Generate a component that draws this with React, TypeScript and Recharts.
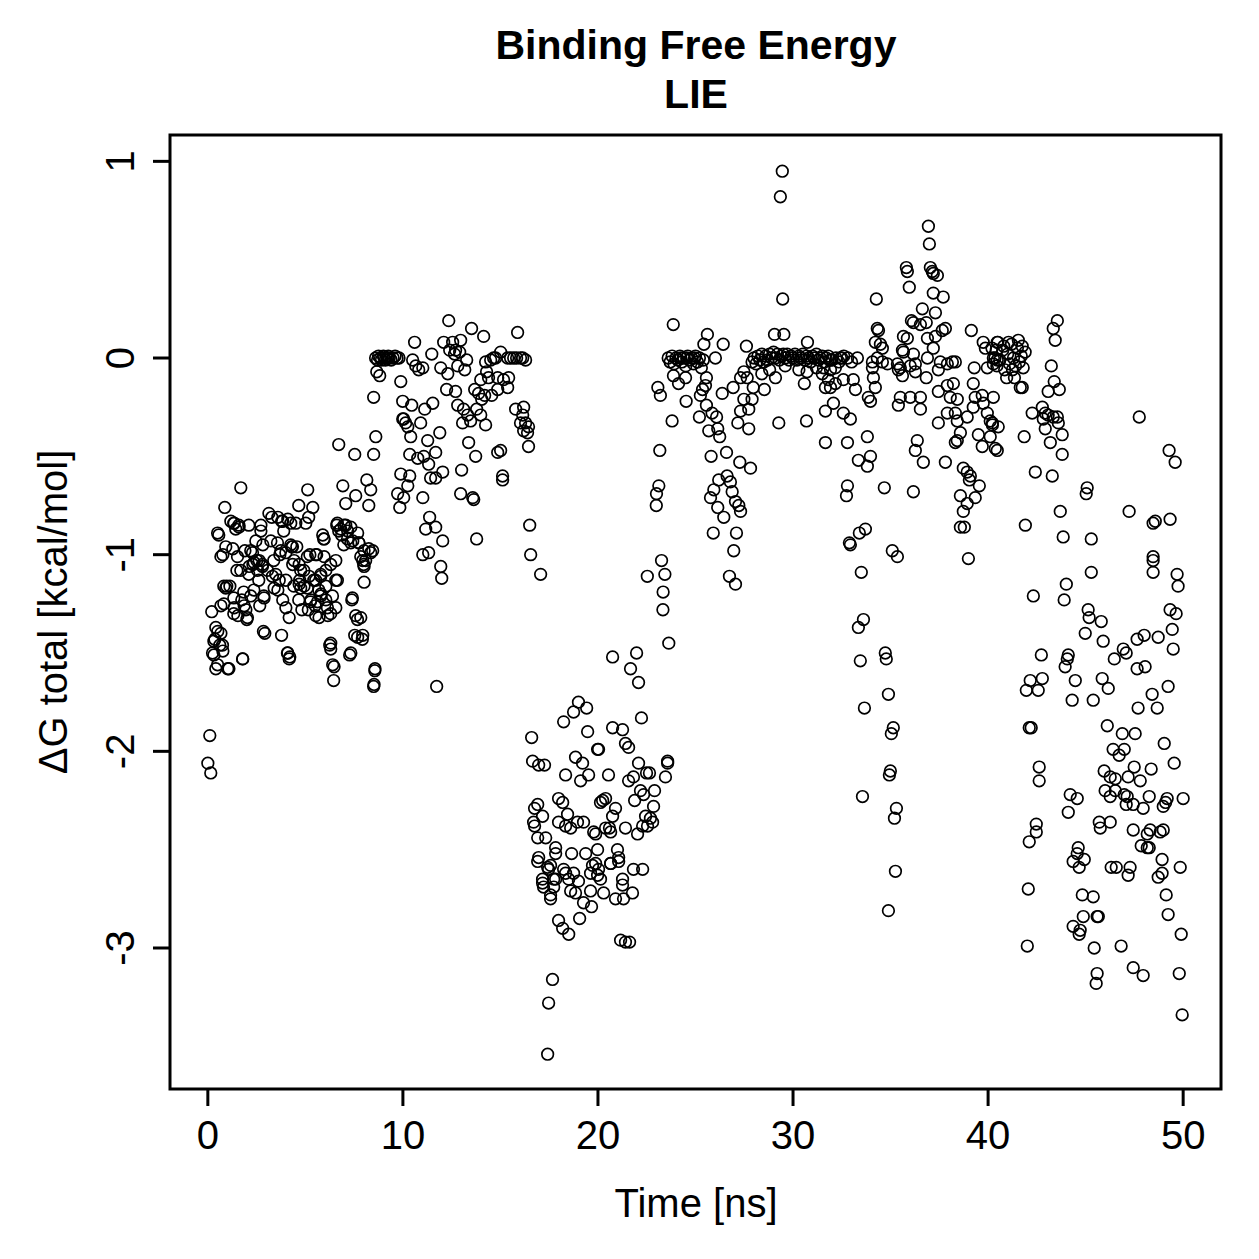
import React from 'react';
import { ScatterChart, Scatter, XAxis, YAxis, ReferenceArea } from 'recharts';

// Axis ticks and ranges (ns, kcal/mol)
const X_TICKS = [0, 10, 20, 30, 40, 50];
const Y_TICKS = [-3, -2, -1, 0, 1];
const X_DOMAIN: [number, number] = [-1.94, 51.94];
const Y_DOMAIN: [number, number] = [-3.717, 1.134];

const TITLE = 'Binding Free Energy';
const SUBTITLE = 'LIE';
const X_LABEL = 'Time [ns]';
const Y_LABEL = 'ΔG total [kcal/mol]';

// [time (ns), ΔG total (kcal/mol)] per simulation stretch
const stretch0to8: [number, number][] = [
  [0.0, -2.06], [0.15, -2.11], [0.1, -1.92], [0.2, -1.29], [0.36, -1.43], [0.31, -1.51], [0.41, -1.58],
  [0.51, -1.39], [0.61, -1.46], [0.77, -1.49], [0.56, -0.9], [0.67, -1.01], [0.82, -1.25], [0.87, -0.76],
  [0.92, -0.96], [0.97, -1.16], [1.02, -1.58], [0.77, -1.0], [0.5, -0.89], [0.82, -1.16], [0.92, -1.17],
  [0.67, -1.26], [1.33, -1.3], [2.03, -1.32], [0.41, -1.37], [0.67, -1.4], [0.31, -1.44], [0.75, -1.46],
  [0.24, -1.5], [0.5, -1.56], [1.08, -1.58], [1.78, -1.53],
  [1.13, -1.16], [1.18, -0.83], [1.28, -0.97], [1.33, -0.84], [1.33, -1.22], [1.43, -0.87], [1.49, -1.08],
  [1.54, -1.31], [1.59, -0.85], [1.69, -0.66], [1.69, -1.08], [1.74, -1.23], [1.79, -1.53], [1.84, -1.19],
  [1.9, -0.98], [1.95, -1.28], [2.0, -1.33], [1.35, -0.84], [1.6, -0.86], [1.52, -1.01], [1.86, -1.26], [1.35, -1.27],
  [2.1, -0.85], [2.1, -1.1], [2.2, -0.98], [2.31, -1.05], [2.36, -1.18], [2.46, -0.93], [2.51, -1.03],
  [2.61, -1.13], [2.66, -1.26], [2.72, -0.85], [2.72, -0.88], [2.82, -0.95], [2.87, -1.21], [2.92, -1.4],
  [2.85, -1.39], [2.88, -1.22], [2.2, -1.21], [2.8, -1.06], [3.06, -1.08], [2.55, -1.08], [2.12, -1.06],
  [2.37, -1.04], [2.29, -0.99], [2.63, -1.03], [2.8, -1.05],
  [3.13, -0.79], [3.23, -0.93], [3.28, -0.81], [3.38, -1.03], [3.48, -1.1], [3.59, -0.81], [3.59, -1.18],
  [3.69, -1.0], [3.79, -0.83], [3.84, -1.23], [3.89, -0.88], [4.0, -1.13], [3.57, -0.94], [3.83, -0.83],
  [3.78, -1.41], [3.4, -1.17], [3.66, -1.13], [3.31, -1.11], [3.74, -0.98], [4.0, -0.99], [4.0, -1.27],
  [4.1, -0.82], [4.1, -1.5], [4.2, -1.52], [4.25, -0.84], [4.3, -0.96], [4.35, -1.05], [4.41, -1.16],
  [4.51, -0.84], [4.56, -0.96], [4.66, -0.75], [4.66, -1.23], [4.71, -1.13], [4.82, -1.28], [4.92, -1.08],
  [4.34, -0.96], [4.08, -1.5], [4.17, -1.53], [4.17, -1.32], [4.25, -0.95], [4.42, -1.03], [4.68, -1.05],
  [4.76, -1.08], [4.68, -1.15], [4.93, -1.16], [4.76, -1.17],
  [5.02, -0.84], [5.12, -0.67], [5.17, -0.81], [5.23, -1.0], [5.28, -1.23], [5.38, -0.76], [5.43, -1.13],
  [5.53, -1.31], [5.58, -1.0], [5.69, -1.18], [5.79, -1.1], [5.89, -0.9], [5.94, -0.92], [5.96, -0.92],
  [5.1, -1.01], [5.53, -1.0], [5.96, -1.01], [5.79, -1.11], [5.53, -1.13], [5.19, -1.11], [5.1, -1.17],
  [5.26, -1.24], [5.5, -1.26], [5.15, -1.28], [5.8, -1.2], [5.62, -1.24], [5.7, -1.32], [5.79, -1.21],
  [6.05, -1.23], [6.15, -1.31], [6.25, -1.46], [6.3, -1.48], [6.4, -1.56], [6.45, -1.64], [6.56, -1.03],
  [6.61, -0.85], [6.71, -0.44], [6.71, -0.88], [6.81, -0.87], [6.86, -0.9], [6.92, -0.65], [6.97, -0.95],
  [6.64, -0.84], [6.98, -0.85], [6.3, -1.45], [6.47, -1.57], [6.39, -1.21], [6.56, -1.13], [6.05, -1.16],
  [6.13, -1.27], [6.3, -1.3], [6.3, -1.05], [6.05, -1.08], [6.64, -1.13], [6.56, -1.27],
  [7.07, -0.74], [7.07, -0.85], [7.17, -0.88], [7.27, -1.51], [7.33, -0.86], [7.38, -1.23], [7.43, -0.93],
  [7.53, -0.49], [7.58, -0.7], [7.58, -1.31], [7.68, -0.89], [7.68, -1.42], [7.74, -0.94], [7.84, -1.01],
  [7.94, -1.41], [7.94, -1.03], [7.99, -1.05], [7.16, -0.92], [7.33, -0.94], [7.75, -0.94], [7.53, -1.41],
  [7.92, -1.43], [7.41, -1.22], [7.84, -1.32], [7.67, -1.33], [7.33, -1.5],
  [8.15, -0.62], [8.25, -0.75], [8.25, -0.97], [8.35, -0.99], [8.35, -0.67], [8.45, -0.98], [8.5, -1.67],
  [8.56, -1.59], [8.01, -0.98], [8.09, -1.03], [8.01, -1.06], [8.01, -1.14], [8.57, -1.58], [8.52, -1.66],
];

const stretch8to17: [number, number][] = [
  [8.6, 0.0], [8.7, -0.01], [8.75, 0.01], [8.85, 0.0], [8.9, -0.01], [9.0, 0.01], [9.05, 0.0], [9.1, -0.01],
  [9.2, 0.0], [9.25, 0.01], [9.3, 0.0], [9.4, -0.01], [9.5, 0.0], [9.6, 0.01], [9.7, 0.0], [9.8, 0.0],
  [8.81, -0.09], [8.66, -0.07], [8.5, -0.2], [8.61, -0.4], [8.5, -0.49],
  [9.89, -0.12], [9.99, -0.22], [10.04, -0.31], [10.14, -0.33], [10.25, -0.35], [10.4, -0.4], [10.91, -0.33],
  [11.27, -0.42], [11.89, -0.38], [11.68, -0.48], [10.35, -0.49], [10.76, -0.51], [11.07, -0.5], [11.32, -0.54],
  [11.42, -0.61], [11.68, -0.61], [12.04, -0.58], [9.89, -0.59], [10.35, -0.6], [10.25, -0.65], [9.73, -0.69],
  [10.04, -0.71], [9.84, -0.76], [11.02, -0.71], [13.01, -0.57], [13.37, -0.43], [13.73, -0.5], [12.96, -0.69],
  [13.63, -0.72], [13.58, -0.71], [14.86, -0.48], [15.01, -0.47], [15.11, -0.6], [15.11, -0.62], [11.37, -0.81],
  [11.17, -0.87], [11.68, -0.86], [12.04, -0.93], [13.78, -0.92], [16.5, -0.85], [11.02, -1.0], [11.32, -0.99],
  [11.94, -1.06], [11.99, -1.12], [16.55, -1.0], [17.06, -1.1], [11.73, -1.67],
  [12.35, 0.19], [13.52, 0.15], [14.14, 0.11], [15.88, 0.13], [10.6, 0.08], [12.09, 0.08], [12.55, 0.08],
  [12.96, 0.09], [12.4, 0.04], [12.91, 0.03], [11.48, 0.02], [10.5, -0.01], [10.66, -0.04], [10.81, -0.06],
  [11.02, -0.05], [11.94, -0.05], [12.3, -0.08], [12.81, -0.04], [13.17, -0.06], [14.24, -0.02], [14.5, -0.01],
  [14.75, 0.0], [15.01, 0.03], [15.37, 0.0], [15.68, 0.0], [16.03, 0.0], [16.29, -0.01], [15.52, 0.0],
  [15.83, 0.0], [16.14, 0.0], [13.99, -0.11], [14.39, -0.1], [14.86, -0.1], [15.16, -0.11], [15.42, -0.1],
  [15.37, -0.15], [14.86, -0.16], [12.24, -0.16], [12.7, -0.17], [12.81, -0.24], [13.11, -0.26], [13.32, -0.29],
  [13.06, -0.33], [13.47, -0.32], [13.78, -0.26], [13.99, -0.29], [14.24, -0.34], [15.78, -0.26], [16.14, -0.29],
  [16.19, -0.25], [16.03, -0.33], [16.29, -0.33], [16.44, -0.35], [16.19, -0.37], [16.39, -0.38], [16.44, -0.45],
  [11.12, -0.26], [11.53, -0.23], [10.45, -0.24], [13.68, -0.16], [14.55, -0.19], [14.19, -0.19], [13.88, -0.18],
  [14.04, -0.21], [9.99, -0.31], [12.65, 0.02], [12.7, 0.04], [13.27, -0.01], [14.29, -0.07], [14.65, 0.0],
];

const stretch16to24: [number, number][] = [
  [20.75, -1.52], [21.98, -1.5], [21.67, -1.58], [22.08, -1.65], [19.0, -1.75], [18.75, -1.8], [19.42, -1.78],
  [18.24, -1.85], [22.23, -1.83], [16.6, -1.93], [19.47, -1.9], [20.75, -1.88], [21.26, -1.89], [21.41, -1.96],
  [21.57, -1.98], [20.03, -1.99], [19.98, -1.99], [16.65, -2.05], [16.96, -2.07], [17.26, -2.07], [18.85, -2.03],
  [19.21, -2.06], [23.57, -2.05], [23.57, -2.06], [18.34, -2.12], [19.11, -2.15], [19.52, -2.12], [20.54, -2.12],
  [21.57, -2.15], [21.82, -2.13], [22.08, -2.06], [22.49, -2.11], [22.64, -2.11], [23.46, -2.13], [22.18, -2.2],
  [22.34, -2.22], [22.9, -2.2], [21.88, -2.25], [20.24, -2.25], [20.39, -2.24], [20.13, -2.26], [16.91, -2.27],
  [16.75, -2.29], [17.98, -2.24], [18.19, -2.26], [20.9, -2.29], [20.75, -2.33], [17.16, -2.33], [18.44, -2.32],
  [22.85, -2.28], [22.44, -2.33], [22.69, -2.34], [22.8, -2.36], [22.54, -2.38], [22.29, -2.38], [16.7, -2.36],
  [16.75, -2.38], [17.98, -2.36], [18.34, -2.38], [18.6, -2.39], [18.95, -2.36], [19.26, -2.36], [19.78, -2.41],
  [19.88, -2.42], [20.39, -2.39], [20.59, -2.39], [20.65, -2.41], [21.41, -2.39], [22.03, -2.42], [16.91, -2.44],
  [17.32, -2.44], [17.83, -2.49], [17.83, -2.52], [18.65, -2.52], [19.37, -2.52], [19.98, -2.5], [21.0, -2.5],
  [21.06, -2.54], [16.96, -2.54], [19.88, -2.57], [20.65, -2.57], [17.47, -2.6], [21.82, -2.6], [22.29, -2.6],
  [18.34, -2.62], [18.75, -2.62], [17.16, -2.65], [17.83, -2.65], [19.62, -2.62], [19.98, -2.63], [21.26, -2.65],
  [16.91, -2.56], [17.42, -2.59], [17.57, -2.58], [18.24, -2.6], [19.72, -2.58], [20.03, -2.6], [20.65, -2.57],
  [21.06, -2.56], [17.16, -2.67], [17.21, -2.69], [17.73, -2.65], [17.73, -2.69], [18.5, -2.65], [19.0, -2.66],
  [19.62, -2.71], [18.6, -2.71], [18.85, -2.72], [20.13, -2.65], [17.57, -2.73], [17.57, -2.75], [20.29, -2.72],
  [20.9, -2.75], [21.26, -2.68], [21.31, -2.75], [21.77, -2.72], [19.26, -2.77], [19.67, -2.79], [17.98, -2.86],
  [18.19, -2.9], [18.5, -2.93], [19.06, -2.85], [21.16, -2.96], [21.41, -2.97], [21.62, -2.97], [17.67, -3.16],
  [17.47, -3.28], [17.42, -3.54],
];

const stretch23to32: [number, number][] = [
  [23.26, -1.03], [23.43, -1.1], [22.53, -1.11], [23.34, -1.19], [23.33, -1.28], [23.63, -1.45],
  [23.12, -0.65], [23.0, -0.69], [22.99, -0.75], [23.17, -0.47], [23.07, -0.15], [23.2, -0.19], [23.86, 0.17],
  [23.8, -0.32],
  [23.6, 0.0], [23.7, -0.02], [23.8, 0.01], [23.9, -0.03], [24.0, 0.0], [24.1, -0.01], [24.2, 0.01], [24.3, -0.02],
  [24.4, 0.0], [24.5, -0.04], [24.6, 0.01], [24.7, -0.01], [24.8, 0.0], [24.9, -0.03], [25.0, 0.01], [25.1, -0.02],
  [25.2, 0.0], [25.3, -0.05], [25.4, -0.01], [24.25, 0.0], [24.55, 0.0], [24.95, 0.0],
  [25.61, 0.12], [25.43, 0.07], [26.42, 0.07], [27.61, 0.06], [26.02, 0.0],
  [23.87, -0.09], [24.49, -0.1], [24.13, -0.13], [25.56, -0.1], [25.51, -0.14], [25.36, -0.16], [25.25, -0.19],
  [26.37, -0.18], [26.93, -0.15], [24.52, -0.22], [25.56, -0.24], [25.2, -0.3], [25.85, -0.28], [26.08, -0.3],
  [25.68, -0.37], [26.14, -0.36], [26.24, -0.4], [25.8, -0.5], [26.59, -0.48], [27.27, -0.53], [27.82, -0.56],
  [26.62, -0.6], [26.79, -0.63], [26.19, -0.62], [25.94, -0.67], [25.77, -0.71], [26.88, -0.68], [27.05, -0.73],
  [27.22, -0.75], [27.31, -0.78], [26.14, -0.76], [26.45, -0.81], [25.91, -0.89], [27.1, -0.89], [26.96, -0.98],
  [26.74, -1.11], [27.05, -1.15],
  [27.48, -0.07], [27.31, -0.1], [27.65, -0.1], [27.96, -0.15], [27.48, -0.21], [27.9, -0.21], [27.31, -0.27],
  [27.73, -0.26], [27.17, -0.33], [27.73, -0.36], [28.53, -0.16], [29.27, -0.33], [30.69, -0.32], [30.58, -0.13],
  [30.72, -0.07], [31.66, -0.27], [31.66, -0.43], [31.66, -0.15], [29.1, -0.1],
  [29.05, 0.12], [29.53, 0.12], [30.74, 0.08], [29.47, 0.3], [29.45, 0.95], [29.35, 0.82],
  [27.9, -0.02], [28.0, 0.0], [28.1, -0.03], [28.2, 0.01], [28.3, -0.01], [28.4, 0.02], [28.5, -0.02],
  [28.6, 0.01], [28.7, -0.01], [28.8, 0.02], [28.9, 0.0], [29.0, 0.03], [29.1, 0.0], [29.2, 0.02],
  [29.3, -0.01], [29.4, 0.01], [29.5, 0.02], [29.6, 0.0], [29.7, 0.02], [29.8, -0.01], [29.9, 0.01],
  [30.0, 0.0], [30.1, 0.02], [30.2, -0.01], [30.3, 0.01], [30.4, 0.0], [30.5, 0.02], [30.6, -0.01],
  [30.7, 0.01], [30.8, 0.0], [30.9, -0.02], [31.0, 0.01], [31.1, 0.0], [31.2, 0.02], [31.3, -0.01],
  [31.4, 0.0], [31.5, 0.01], [31.6, -0.02], [31.7, 0.0], [31.8, 0.01], [31.9, -0.01],
  [28.4, -0.08], [28.8, -0.06], [29.6, -0.04], [30.3, -0.06], [31.2, -0.05], [31.5, -0.08],
];

const stretch32to40: [number, number][] = [
  [36.94, 0.67], [36.99, 0.58], [35.81, 0.46], [35.86, 0.44], [37.04, 0.46], [37.14, 0.44], [37.19, 0.43],
  [37.4, 0.42], [35.96, 0.36], [37.19, 0.33], [37.7, 0.31], [34.27, 0.3], [36.63, 0.25], [37.3, 0.23],
  [36.07, 0.19], [36.17, 0.18], [36.53, 0.17], [36.83, 0.18], [34.32, 0.15], [34.38, 0.14], [39.14, 0.14],
  [37.65, 0.14], [37.81, 0.15], [35.66, 0.11], [35.86, 0.1], [36.89, 0.1], [37.3, 0.11], [34.22, 0.08],
  [34.48, 0.07], [34.58, 0.05], [37.19, 0.05], [39.75, 0.08], [39.86, 0.05], [35.61, 0.04], [35.66, 0.03],
  [36.17, 0.02], [36.89, 0.0], [33.3, 0.0], [32.43, 0.0], [32.0, -0.01], [32.2, 0.0], [32.35, -0.02],
  [32.5, 0.0], [32.6, 0.01], [32.8, 0.0], [33.0, -0.02],
  [34.07, -0.02], [34.32, 0.0], [34.58, -0.02], [34.84, -0.03], [35.35, -0.03], [35.5, -0.05], [36.01, -0.04],
  [36.27, -0.03], [37.55, -0.02], [37.91, -0.03], [38.17, -0.02], [38.32, -0.02], [37.45, -0.06], [39.29, -0.05],
  [39.96, -0.05], [31.56, -0.05], [31.92, -0.06], [32.17, -0.05], [31.81, -0.11], [31.92, -0.15], [32.17, -0.13],
  [32.58, -0.11], [33.09, -0.11], [33.2, -0.16], [34.07, -0.05], [34.12, -0.1], [34.22, -0.15], [33.86, -0.2],
  [33.97, -0.22], [35.4, -0.06], [35.61, -0.09], [36.27, -0.07], [36.83, -0.1], [35.5, -0.2], [35.4, -0.24],
  [36.01, -0.2], [36.53, -0.2], [36.53, -0.26], [37.45, -0.17], [37.91, -0.14], [38.22, -0.13], [38.06, -0.2],
  [38.42, -0.21], [37.91, -0.28], [37.45, -0.33], [38.32, -0.28], [38.42, -0.32], [38.93, -0.3], [39.24, -0.13],
  [39.34, -0.2], [39.7, -0.19], [39.75, -0.23], [39.24, -0.25], [39.96, -0.28], [39.5, -0.39], [38.58, -0.38],
  [38.42, -0.42], [38.32, -0.43], [39.7, -0.45], [36.37, -0.42], [36.27, -0.47], [36.68, -0.53], [37.81, -0.53],
  [38.73, -0.56], [38.93, -0.58], [39.09, -0.6], [32.07, -0.23], [32.58, -0.28], [32.94, -0.31], [32.79, -0.43],
  [33.81, -0.4], [33.35, -0.52], [33.97, -0.5], [33.81, -0.55],
  [39.04, -0.62], [39.55, -0.65], [39.34, -0.71], [38.93, -0.74], [38.73, -0.78], [38.58, -0.7], [38.58, -0.86],
  [38.78, -0.86], [38.99, -1.02], [32.79, -0.65], [32.74, -0.7], [34.68, -0.66], [36.17, -0.68], [33.71, -0.87],
  [33.4, -0.89], [32.89, -0.94], [32.94, -0.95], [35.09, -0.98], [35.35, -1.01], [33.5, -1.09], [33.61, -1.33],
  [33.35, -1.37], [34.73, -1.5], [34.78, -1.53], [33.45, -1.54], [34.89, -1.71], [33.66, -1.78], [35.14, -1.88],
  [35.04, -1.91], [34.99, -2.1], [34.94, -2.12], [33.56, -2.23], [35.3, -2.29], [35.2, -2.34], [35.25, -2.61],
  [34.89, -2.81],
];

const stretch40to50: [number, number][] = [
  [40.27, 0.0], [40.47, 0.08], [40.42, 0.04], [40.27, -0.03], [40.47, -0.01], [40.27, -0.2], [40.11, -0.32],
  [40.22, -0.33], [40.11, -0.4], [40.37, -0.46],
  [40.2, 0.05], [40.35, 0.0], [40.5, 0.08], [40.6, -0.01], [40.75, 0.04], [40.85, -0.06], [41.0, 0.02],
  [41.1, -0.03], [41.2, 0.07], [41.3, 0.0], [41.4, -0.04], [41.5, 0.05], [41.6, -0.02], [41.7, 0.01],
  [41.8, -0.05], [41.9, 0.03], [40.95, -0.1], [41.35, -0.1], [40.45, -0.04], [41.55, 0.09], [40.8, 0.06],
  [41.05, 0.08], [41.25, -0.06], [41.75, 0.06],
  [43.55, 0.19], [43.34, 0.15], [43.44, 0.09], [43.24, -0.04], [43.39, -0.12], [43.08, -0.17], [43.65, -0.16],
  [41.75, -0.15], [41.65, -0.15], [42.26, -0.28], [42.78, -0.25], [42.93, -0.28], [43.08, -0.29], [42.83, -0.31],
  [43.34, -0.3], [43.6, -0.33], [43.55, -0.3], [42.93, -0.36], [43.19, -0.43], [43.8, -0.39], [43.8, -0.49],
  [40.22, -0.34], [40.52, -0.35], [40.47, -0.47], [41.85, -0.4], [42.42, -0.58], [43.29, -0.6], [45.08, -0.66],
  [45.03, -0.69], [43.7, -0.78], [41.91, -0.85], [43.85, -0.91], [45.29, -0.92], [47.23, -0.78], [47.75, -0.3],
  [49.28, -0.47], [49.59, -0.53], [48.57, -0.83], [48.46, -0.84], [49.33, -0.82], [48.46, -1.01],
  [45.29, -1.09], [48.46, -1.03], [48.46, -1.09], [49.69, -1.1], [49.74, -1.16], [44.01, -1.15], [42.32, -1.21],
  [43.9, -1.23], [45.13, -1.28], [45.18, -1.32], [45.8, -1.34], [44.98, -1.4], [45.9, -1.44], [49.33, -1.28],
  [49.64, -1.3], [49.44, -1.38], [49.49, -1.48], [47.64, -1.43], [48.0, -1.41], [48.72, -1.42], [46.93, -1.48],
  [47.08, -1.5], [46.47, -1.53], [42.73, -1.51], [44.11, -1.51], [44.06, -1.53], [43.95, -1.57], [47.64, -1.58],
  [48.05, -1.57], [42.78, -1.63], [42.16, -1.64], [41.96, -1.69], [42.57, -1.69], [44.47, -1.64], [45.85, -1.63],
  [46.16, -1.68], [44.31, -1.74], [45.39, -1.74], [49.23, -1.67], [48.41, -1.71], [47.69, -1.78], [48.67, -1.78],
  [42.21, -1.88], [42.11, -1.88], [46.11, -1.87], [46.88, -1.91], [47.54, -1.91], [49.03, -1.96], [46.41, -1.99],
  [46.98, -1.99], [46.72, -2.02], [49.54, -2.06], [42.62, -2.08], [42.62, -2.15], [47.49, -2.08], [48.36, -2.09],
  [45.95, -2.1], [46.26, -2.13], [46.52, -2.14], [47.18, -2.13], [47.8, -2.15], [44.21, -2.22], [44.57, -2.24],
  [46.0, -2.2], [46.52, -2.2], [46.26, -2.23], [47.13, -2.23], [48.26, -2.23], [49.18, -2.24], [50.0, -2.24],
  [46.98, -2.22], [47.08, -2.27], [47.44, -2.27], [47.95, -2.29], [48.98, -2.28], [49.1, -2.26], [44.11, -2.31],
  [42.47, -2.37], [42.47, -2.41], [42.11, -2.46], [45.7, -2.36], [46.26, -2.36], [45.75, -2.39], [47.44, -2.4],
  [48.16, -2.42], [48.31, -2.4], [48.82, -2.41], [48.98, -2.4], [47.85, -2.48], [48.16, -2.49], [48.26, -2.49],
  [44.62, -2.49], [44.57, -2.52], [44.36, -2.56], [44.93, -2.55], [44.67, -2.59], [46.31, -2.59], [46.57, -2.59],
  [47.28, -2.59], [47.18, -2.63], [48.92, -2.55], [48.92, -2.62], [48.72, -2.64], [49.85, -2.59], [42.06, -2.7],
  [44.83, -2.73], [45.39, -2.74], [49.13, -2.73], [44.88, -2.84], [45.65, -2.84], [45.59, -2.84], [49.23, -2.83],
  [44.36, -2.89], [44.72, -2.91], [44.67, -2.93], [49.9, -2.93], [42.01, -2.99], [45.44, -3.0], [46.82, -2.99],
  [47.44, -3.1], [47.95, -3.14], [49.8, -3.13], [45.59, -3.13], [45.54, -3.18], [49.95, -3.34],
];

const points = [
  ...stretch0to8,
  ...stretch8to17,
  ...stretch16to24,
  ...stretch23to32,
  ...stretch32to40,
  ...stretch40to50,
].map(([t, dg]) => ({ t, dg }));

const FONT = '"Liberation Sans", Arial, Helvetica, sans-serif';

const OpenCircle = (props: any) => {
  const { cx, cy } = props;
  if (cx == null || cy == null) return null;
  return <circle cx={cx} cy={cy} r={5.8} fill="none" stroke="#000" strokeWidth={1.7} />;
};

const RotatedTick = (props: any) => {
  const { x, y, payload } = props;
  return (
    <text
      x={x}
      y={y}
      transform={`rotate(-90 ${x} ${y})`}
      textAnchor="middle"
      fontSize={40}
      fontFamily={FONT}
      fill="#000"
    >
      {payload.value}
    </text>
  );
};

export default function App() {
  return (
    <div style={{ position: 'absolute', left: 0, top: 0, width: 1259, height: 1259, background: '#fff' }}>
      <ScatterChart
        width={1259}
        height={1259}
        margin={{ top: 135, right: 38, bottom: 0, left: 0 }}
      >
        <XAxis
          type="number"
          dataKey="t"
          domain={X_DOMAIN}
          ticks={X_TICKS}
          allowDataOverflow
          height={170}
          axisLine={false}
          tickSize={17}
          tickMargin={15}
          tickLine={{ stroke: '#000', strokeWidth: 3 }}
          tick={{ fill: '#000', fontSize: 40, fontFamily: FONT }}
          interval={0}
        />
        <YAxis
          type="number"
          dataKey="dg"
          domain={Y_DOMAIN}
          ticks={Y_TICKS}
          allowDataOverflow
          width={170}
          axisLine={false}
          tickSize={17}
          tickMargin={19}
          tickLine={{ stroke: '#000', strokeWidth: 3 }}
          tick={<RotatedTick />}
          interval={0}
        />
        <ReferenceArea
          x1={X_DOMAIN[0]}
          x2={X_DOMAIN[1]}
          y1={Y_DOMAIN[0]}
          y2={Y_DOMAIN[1]}
          fill="none"
          stroke="#000"
          strokeWidth={3}
          ifOverflow="visible"
        />
        <Scatter data={points} shape={<OpenCircle />} isAnimationActive={false} />
      </ScatterChart>
      <svg
        width={1259}
        height={1259}
        style={{ position: 'absolute', left: 0, top: 0, pointerEvents: 'none' }}
      >
        <text x={696} y={59} textAnchor="middle" fontSize={41} fontWeight="bold" fontFamily={FONT} fill="#000">
          {TITLE}
        </text>
        <text x={696} y={108} textAnchor="middle" fontSize={41} fontWeight="bold" fontFamily={FONT} fill="#000">
          {SUBTITLE}
        </text>
        <text x={696} y={1217} textAnchor="middle" fontSize={40} fontFamily={FONT} fill="#000">
          {X_LABEL}
        </text>
        <text
          x={67}
          y={612}
          transform="rotate(-90 67 612)"
          textAnchor="middle"
          fontSize={40}
          fontFamily={FONT}
          fill="#000"
        >
          {Y_LABEL}
        </text>
      </svg>
    </div>
  );
}
